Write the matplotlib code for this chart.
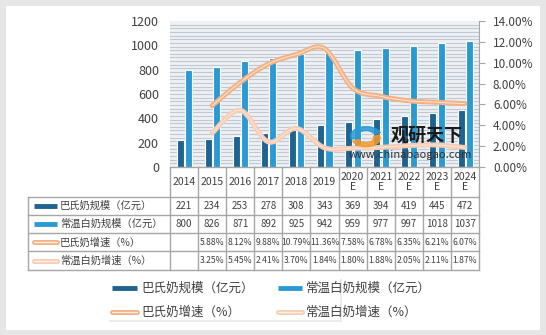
import matplotlib
matplotlib.use("Agg")
import matplotlib.pyplot as plt
import numpy as np
from matplotlib.lines import Line2D
from matplotlib.patches import PathPatch, Rectangle, Wedge
from matplotlib.path import Path
from matplotlib.transforms import blended_transform_factory

plt.rcParams["font.family"] = ["Noto Sans CJK SC", "DejaVu Sans"]

years = ["2014", "2015", "2016", "2017", "2018", "2019",
         "2020\nE", "2021\nE", "2022\nE", "2023\nE", "2024\nE"]
pasteur_size = [221, 234, 253, 278, 308, 343, 369, 394, 419, 445, 472]
ambient_size = [800, 826, 871, 892, 925, 942, 959, 977, 997, 1018, 1037]
pasteur_growth = [None, 5.88, 8.12, 9.88, 10.79, 11.36, 7.58, 6.78, 6.35, 6.21, 6.07]
ambient_growth = [None, 3.25, 5.45, 2.41, 3.70, 1.84, 1.80, 1.88, 2.05, 2.11, 1.87]

series_names = ["巴氏奶规模（亿元）", "常温白奶规模（亿元）", "巴氏奶增速（%）", "常温白奶增速（%）"]

C_DARK = "#1f6391"
C_LIGHT = "#2b9ad2"
C_ORANGE = "#f4b183"
C_PEACH = "#f8cdb4"
C_TEXT = "#404040"
C_GRID = "#a6a6a6"

W, H = 546, 335


def fy(ypx):
    return 1 - ypx / H


def fx(xpx):
    return xpx / W


def smooth_path(xs, ys):
    # Excel-style smoothed line: cubic Bezier through each point
    pts = np.column_stack([xs, ys]).astype(float)
    n = len(pts)
    verts = [pts[0]]
    codes = [Path.MOVETO]
    for i in range(n - 1):
        p_prev = pts[i - 1] if i > 0 else pts[i]
        p_next2 = pts[i + 2] if i + 2 < n else pts[i + 1]
        c1 = pts[i] + (pts[i + 1] - p_prev) / 6
        c2 = pts[i + 1] - (p_next2 - pts[i]) / 6
        verts += [c1, c2, pts[i + 1]]
        codes += [Path.CURVE4] * 3
    return Path(verts, codes)


fig = plt.figure(figsize=(W / 100, H / 100), dpi=100)
fig.patch.set_facecolor("#e6e6e6")
fig.patches.append(Rectangle((fx(6), fy(330)), fx(534), (330 - 6) / H,
                             transform=fig.transFigure, facecolor="white",
                             edgecolor="none", zorder=-5))

ax = fig.add_axes([fx(170), fy(167), fx(309), (167 - 21) / H])
ax.set_facecolor("#edf1f5")
for v in np.arange(30, 1200, 30):
    ax.axhline(v, color="#c0c8d2", lw=0.8, zorder=0)

x = np.arange(len(years))
ax.bar(x - 0.14, pasteur_size, width=0.25, color=C_DARK, edgecolor="white", lw=0.8, zorder=2)
ax.bar(x + 0.16, ambient_size, width=0.25, color=C_LIGHT, edgecolor="white", lw=0.8, zorder=2)
ax.set_xlim(-0.5, len(years) - 0.5)
ax.set_ylim(0, 1200)
ax.set_yticks(range(0, 1201, 200))
ax.set_xticks([])
ax.tick_params(axis="y", length=0, labelsize=9, labelcolor=C_TEXT, pad=8)
for s in ax.spines.values():
    s.set_visible(False)

ax2 = ax.twinx()
ax2.set_ylim(0, 14)
ax2.set_yticks(range(0, 15, 2))
ax2.set_yticklabels([f"{t:.2f}%" for t in range(0, 15, 2)])
ax2.tick_params(axis="y", length=4, color=C_GRID, labelsize=8.5, labelcolor=C_TEXT, pad=6)
for k, s in ax2.spines.items():
    s.set_visible(k == "right")
ax2.spines["right"].set_color(C_GRID)

for vals, col in [(pasteur_growth, C_ORANGE), (ambient_growth, C_PEACH)]:
    xs = [i for i, v in enumerate(vals) if v is not None]
    ys = [v for v in vals if v is not None]
    p = smooth_path(xs, ys)
    ax2.add_patch(PathPatch(p, facecolor="none", edgecolor=col, lw=3.6, zorder=3, capstyle="round"))
    ax2.add_patch(PathPatch(p, facecolor="none", edgecolor="#fbe6da", lw=0.7, zorder=4))

# watermark
fig.patches.append(Wedge((fx(366), fy(136)), 0.028, 20, 200, width=0.012,
                         transform=fig.transFigure, color="#2b9ad2", alpha=0.85, zorder=5))
fig.patches.append(Wedge((fx(366), fy(138)), 0.026, 200, 380, width=0.012,
                         transform=fig.transFigure, color="#f39a2b", alpha=0.85, zorder=5))
fig.text(fx(427), fy(135), "观研天下", fontsize=13, fontweight="bold", color="#1a1a1a",
         ha="center", va="center", zorder=6)
fig.text(fx(410), fy(155), "www.chinabaogao.com", fontsize=8, color="#333333",
         ha="center", va="center", zorder=6)

# data table
bt = blended_transform_factory(ax.transData, fig.transFigure)
col_w = 309 / len(years)
row_lines = [196.8, 215.0, 233.2, 251.4, 269.6]
row_mid = [(row_lines[i] + row_lines[i + 1]) / 2 for i in range(4)]

fig.add_artist(Line2D([fx(170), fx(479)], [fy(167), fy(167)], color=C_GRID, lw=1))
for yl in row_lines:
    fig.add_artist(Line2D([fx(28), fx(479)], [fy(yl), fy(yl)], color=C_GRID, lw=1))
fig.add_artist(Line2D([fx(28), fx(28)], [fy(196.8), fy(269.6)], color=C_GRID, lw=1))
for k in range(len(years) + 1):
    xp = 170 + k * col_w
    fig.add_artist(Line2D([fx(xp), fx(xp)], [fy(167), fy(269.6)], color=C_GRID, lw=1))

for i, yr in enumerate(years):
    fig.text(i, fy(182), yr, transform=bt, ha="center", va="center", fontsize=7.5,
             color=C_TEXT, linespacing=1.1)

rows = [
    [str(v) for v in pasteur_size],
    [str(v) for v in ambient_size],
    ["" if v is None else f"{v:.2f}%" for v in pasteur_growth],
    ["" if v is None else f"{v:.2f}%" for v in ambient_growth],
]
for r, vals in enumerate(rows):
    for i, t in enumerate(vals):
        fig.text(i, fy(row_mid[r]), t, transform=bt, ha="center", va="center",
                 fontsize=7 if r < 2 else 6.2, color=C_TEXT)


def draw_handle(x0, x1, ypx, kind):
    xs = [fx(x0), fx(x1)]
    ys = [fy(ypx), fy(ypx)]
    if kind == 0:
        fig.add_artist(Line2D(xs, ys, color=C_DARK, lw=3.5, solid_capstyle="butt"))
    elif kind == 1:
        fig.add_artist(Line2D(xs, ys, color=C_LIGHT, lw=3.5, solid_capstyle="butt"))
    else:
        col = C_ORANGE if kind == 2 else C_PEACH
        fig.add_artist(Line2D(xs, ys, color=col, lw=3.6, solid_capstyle="round"))
        fig.add_artist(Line2D(xs, ys, color="#fdf0e8", lw=1.0, solid_capstyle="round"))


for r in range(4):
    draw_handle(34, 57, row_mid[r], r)
    fig.text(fx(60), fy(row_mid[r]), series_names[r], ha="left", va="center",
             fontsize=7.4, color=C_TEXT)

# legend
fig.patches.append(Rectangle((fx(109), fy(322)), fx(233), (322 - 279) / H,
                             transform=fig.transFigure, facecolor="#ececec",
                             edgecolor="none", zorder=1))
fig.patches.append(Rectangle((fx(107), fy(320)), fx(233), (320 - 277) / H,
                             transform=fig.transFigure, facecolor="white",
                             edgecolor="none", zorder=1))
leg_pos = [(112, 137, 141, 288), (278, 302, 306, 288), (112, 137, 141, 312), (278, 302, 306, 312)]
for k, (h0, h1, tx, ty) in enumerate(leg_pos):
    draw_handle(h0, h1, ty, k)
    fig.text(fx(tx), fy(ty), series_names[k], ha="left", va="center", fontsize=9, color=C_TEXT)

fig.savefig("out.png", dpi=100)
